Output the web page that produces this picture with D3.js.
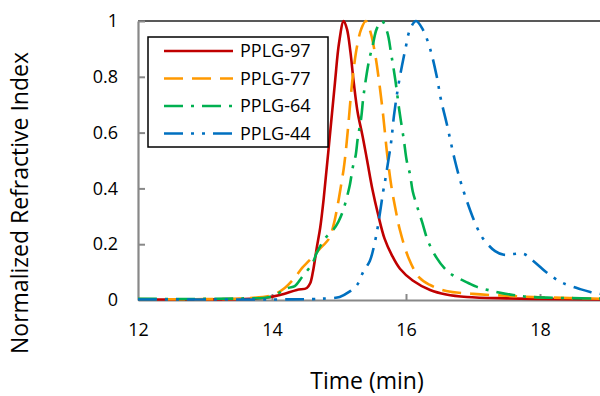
<!DOCTYPE html>
<html>
<head>
<meta charset="utf-8">
<script src="https://cdn.jsdelivr.net/npm/d3@7"></script>
<style>
  body { margin: 0; background: #fff; }
  svg { display: block; font-family: "Open Sans", sans-serif; }
</style>
</head>
<body>
<svg id="chart" width="600" height="396"></svg>
<script>
// series names and styles order
const seriesNames = ["PPLG-97", "PPLG-77", "PPLG-64", "PPLG-44"];

// PPLG-97 (time in min, normalized RI)
const t97 = [12, 13, 13.5, 13.87, 14.12, 14.37, 14.52, 14.57, 14.61, 14.67, 14.72, 14.77, 14.84, 14.94, 15.0, 15.07, 15.12, 15.17, 15.22, 15.28, 15.35, 15.42, 15.5, 15.58, 15.68, 15.79, 15.91, 16.1, 16.36, 16.6, 16.91, 17.5, 18, 19];
const v97 = [0.002, 0.002, 0.003, 0.007, 0.018, 0.036, 0.043, 0.06, 0.10, 0.19, 0.26, 0.36, 0.53, 0.78, 0.92, 1.0, 0.97, 0.89, 0.78, 0.67, 0.59, 0.50, 0.395, 0.31, 0.22, 0.16, 0.112, 0.07, 0.036, 0.02, 0.011, 0.006, 0.004, 0.002];

// PPLG-77
const t77 = [12, 13, 13.6, 14.01, 14.19, 14.34, 14.45, 14.55, 14.7, 14.85, 14.92, 14.98, 15.03, 15.07, 15.1, 15.14, 15.18, 15.22, 15.27, 15.33, 15.4, 15.47, 15.54, 15.6, 15.66, 15.72, 15.78, 15.84, 15.91, 16.04, 16.2, 16.35, 16.6, 17.0, 17.5, 18, 19];
const v77 = [0.003, 0.003, 0.006, 0.018, 0.043, 0.08, 0.115, 0.14, 0.18, 0.22, 0.27, 0.34, 0.41, 0.47, 0.53, 0.63, 0.74, 0.83, 0.91, 0.97, 1.0, 0.96, 0.88, 0.78, 0.66, 0.52, 0.41, 0.33, 0.25, 0.15, 0.08, 0.055, 0.032, 0.022, 0.015, 0.01, 0.004];

// PPLG-64
const t64 = [12, 13, 13.6, 13.97, 14.24, 14.34, 14.45, 14.6, 14.67, 14.79, 14.91, 14.99, 15.06, 15.13, 15.16, 15.21, 15.25, 15.28, 15.33, 15.36, 15.4, 15.45, 15.51, 15.56, 15.64, 15.72, 15.78, 15.84, 15.9, 15.97, 16.01, 16.06, 16.1, 16.16, 16.24, 16.33, 16.46, 16.57, 16.69, 16.93, 17.06, 17.33, 17.6, 17.85, 19];
const v64 = [0.004, 0.004, 0.006, 0.011, 0.043, 0.05, 0.083, 0.13, 0.17, 0.22, 0.25, 0.28, 0.32, 0.38, 0.41, 0.48, 0.52, 0.58, 0.65, 0.72, 0.79, 0.86, 0.92, 0.97, 1.0, 0.96, 0.88, 0.79, 0.68, 0.57, 0.50, 0.45, 0.39, 0.34, 0.28, 0.21, 0.15, 0.115, 0.09, 0.061, 0.047, 0.03, 0.018, 0.011, 0.005];

// PPLG-44
const t44 = [12, 13, 14, 14.6, 14.76, 15.01, 15.15, 15.27, 15.36, 15.46, 15.51, 15.57, 15.61, 15.66, 15.69, 15.73, 15.78, 15.82, 15.88, 15.94, 16.0, 16.06, 16.15, 16.25, 16.36, 16.46, 16.52, 16.61, 16.73, 16.82, 16.96, 17.06, 17.15, 17.33, 17.46, 17.61, 17.76, 17.9, 18.09, 18.21, 18.34, 18.6, 18.75, 19];
const v44 = [0.002, 0.002, 0.002, 0.003, 0.005, 0.011, 0.029, 0.054, 0.1, 0.14, 0.18, 0.25, 0.31, 0.39, 0.43, 0.49, 0.57, 0.66, 0.76, 0.84, 0.91, 0.97, 1.0, 0.97, 0.90, 0.80, 0.72, 0.63, 0.50, 0.42, 0.32, 0.26, 0.22, 0.175, 0.162, 0.165, 0.165, 0.14, 0.10, 0.079, 0.061, 0.039, 0.029, 0.018];

const xTicks = [12, 14, 16, 18];
const yTicks = [0, 0.2, 0.4, 0.6, 0.8, 1];

const series = [
  { name: seriesNames[0], t: t97, v: v97, color: "#C00000", dash: null },
  { name: seriesNames[1], t: t77, v: v77, color: "#FF9900", dash: "19,9" },
  { name: seriesNames[2], t: t64, v: v64, color: "#00B050", dash: "19,8,3,8" },
  { name: seriesNames[3], t: t44, v: v44, color: "#0070C0", dash: "19,8,3,8,3,8" }
];

const svg = d3.select("#chart");
const x = d3.scaleLinear().domain([12, 19]).range([138, 607]);
const y = d3.scaleLinear().domain([0, 1]).range([300, 21]);
const axisColor = "#888888";

// top border
svg.append("line")
  .attr("x1", x(12)).attr("x2", 600)
  .attr("y1", y(1)).attr("y2", y(1))
  .attr("stroke", "#222").attr("stroke-width", 1.5);

// y axis, ticks pointing inward
const gy = svg.append("g")
  .attr("transform", `translate(${x(12)},0)`)
  .call(d3.axisLeft(y).tickValues(yTicks).tickFormat(d => String(d))
    .tickSizeInner(-7).tickSizeOuter(0).tickPadding(20));

// x axis
const gx = svg.append("g")
  .attr("transform", `translate(0,${y(0)})`)
  .call(d3.axisBottom(x).tickValues(xTicks).tickFormat(d => String(d))
    .tickSizeInner(-6).tickSizeOuter(0).tickPadding(23));

[gx, gy].forEach(g => {
  g.select(".domain").attr("stroke", axisColor).attr("stroke-width", 2.2);
  g.selectAll(".tick line").attr("stroke", axisColor).attr("stroke-width", 2);
  g.selectAll(".tick text").attr("fill", "#000").attr("font-size", 18)
    .attr("font-family", "'Open Sans', sans-serif");
});
gx.selectAll(".tick").filter(d => d === 12).select("line").remove();
gy.selectAll(".tick").filter(d => d === 0).select("line").remove();

// curves
const line = d3.line()
  .x(d => x(d[0]))
  .y(d => y(Math.max(0, d[1])))
  .curve(d3.curveCatmullRom.alpha(0.5));

series.forEach(s => {
  svg.append("path")
    .datum(s.t.map((t, i) => [t, s.v[i]]))
    .attr("d", line)
    .attr("fill", "none")
    .attr("stroke", s.color)
    .attr("stroke-width", 2.6)
    .attr("stroke-dasharray", s.dash)
    .attr("stroke-linejoin", "round");
});

// axis titles
svg.append("text")
  .attr("x", 367).attr("y", 389)
  .attr("text-anchor", "middle")
  .attr("font-size", 23)
  .text("Time (min)");

svg.append("text")
  .attr("transform", "translate(28,203) rotate(-90)")
  .attr("text-anchor", "middle")
  .attr("font-size", 23)
  .text("Normalized Refractive Index");

// legend
const legend = svg.append("g");
legend.append("rect")
  .attr("x", 148).attr("y", 37)
  .attr("width", 180).attr("height", 110)
  .attr("fill", "#fff").attr("stroke", "#000").attr("stroke-width", 1.5);

const legendY = d3.scalePoint().domain(seriesNames).range([51, 133.5]);
series.forEach(s => {
  const ly = legendY(s.name);
  legend.append("line")
    .attr("x1", 164).attr("x2", 233)
    .attr("y1", ly).attr("y2", ly)
    .attr("stroke", s.color).attr("stroke-width", 2.6)
    .attr("stroke-dasharray", s.dash);
  legend.append("text")
    .attr("x", 240).attr("y", ly).attr("dy", "0.35em")
    .attr("font-size", 18)
    .text(s.name);
});
</script>
</body>
</html>
